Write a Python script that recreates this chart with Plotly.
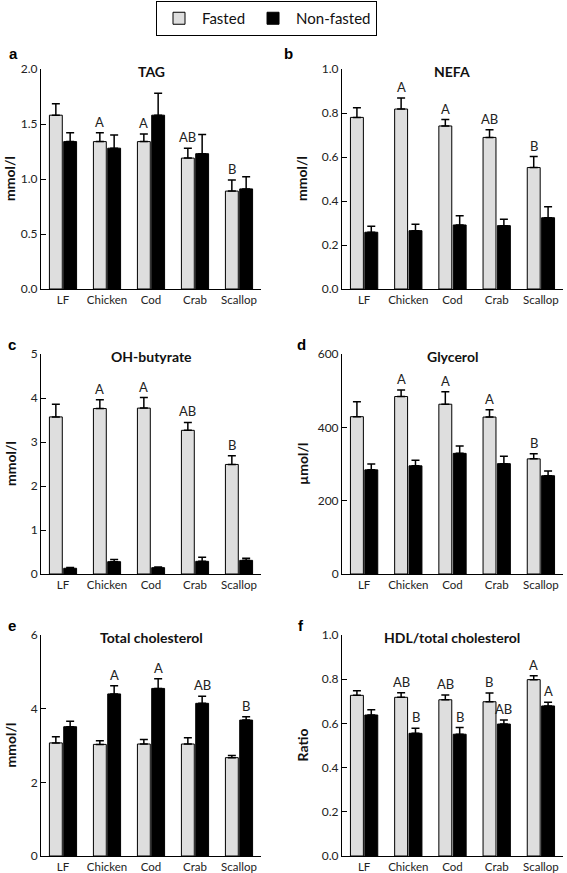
import plotly.graph_objects as go

categories = ["LF", "Chicken", "Cod", "Crab", "Scallop"]

panel_letters = ["a", "b", "c", "d", "e", "f"]
panel_titles = ["TAG", "NEFA", "OH-butyrate", "Glycerol", "Total cholesterol", "HDL/total cholesterol"]
y_titles = ["mmol/l", "mmol/l", "mmol/l", "µmol/l", "mmol/l", "Ratio"]

tag_fasted = [1.58, 1.34, 1.34, 1.19, 0.89]
tag_fasted_err = [0.105, 0.08, 0.07, 0.09, 0.10]
tag_nonfasted = [1.34, 1.28, 1.58, 1.23, 0.91]
tag_nonfasted_err = [0.08, 0.12, 0.20, 0.175, 0.11]
tag_fasted_sig = ["", "A", "A", "AB", "B"]
tag_nonfasted_sig = ["", "", "", "", ""]

nefa_fasted = [0.78, 0.818, 0.741, 0.689, 0.552]
nefa_fasted_err = [0.044, 0.05, 0.029, 0.035, 0.05]
nefa_nonfasted = [0.258, 0.265, 0.291, 0.288, 0.324]
nefa_nonfasted_err = [0.027, 0.029, 0.042, 0.029, 0.05]
nefa_fasted_sig = ["", "A", "A", "AB", "B"]
nefa_nonfasted_sig = ["", "", "", "", ""]

ohb_fasted = [3.57, 3.76, 3.77, 3.265, 2.49]
ohb_fasted_err = [0.29, 0.20, 0.24, 0.18, 0.20]
ohb_nonfasted = [0.13, 0.28, 0.144, 0.288, 0.31]
ohb_nonfasted_err = [0.015, 0.05, 0.015, 0.09, 0.05]
ohb_fasted_sig = ["", "A", "A", "AB", "B"]
ohb_nonfasted_sig = ["", "", "", "", ""]

gly_fasted = [429, 484, 463, 428, 314]
gly_fasted_err = [41, 18, 34, 20, 14]
gly_nonfasted = [284, 295, 329, 301, 268]
gly_nonfasted_err = [16, 15, 20, 20, 13]
gly_fasted_sig = ["", "A", "A", "A", "B"]
gly_nonfasted_sig = ["", "", "", "", ""]

tc_fasted = [3.07, 3.03, 3.04, 3.04, 2.67]
tc_fasted_err = [0.17, 0.10, 0.12, 0.17, 0.06]
tc_nonfasted = [3.51, 4.40, 4.55, 4.145, 3.69]
tc_nonfasted_err = [0.15, 0.22, 0.26, 0.19, 0.09]
tc_fasted_sig = ["", "", "", "", ""]
tc_nonfasted_sig = ["", "A", "A", "AB", "B"]

hdl_fasted = [0.727, 0.718, 0.707, 0.698, 0.798]
hdl_fasted_err = [0.021, 0.021, 0.021, 0.04, 0.018]
hdl_nonfasted = [0.638, 0.555, 0.551, 0.597, 0.679]
hdl_nonfasted_err = [0.024, 0.023, 0.03, 0.018, 0.017]
hdl_fasted_sig = ["", "AB", "AB", "B", "A"]
hdl_nonfasted_sig = ["", "B", "B", "AB", "A"]

y_ranges = [[0, 2.0], [0, 1.0], [0, 5], [0, 600], [0, 6], [0, 1.0]]
y_dticks = [0.5, 0.2, 1, 200, 2, 0.2]
y_formats = [".1f", ".1f", "d", "d", "d", ".1f"]

panels = [
    (tag_fasted, tag_fasted_err, tag_nonfasted, tag_nonfasted_err, tag_fasted_sig, tag_nonfasted_sig),
    (nefa_fasted, nefa_fasted_err, nefa_nonfasted, nefa_nonfasted_err, nefa_fasted_sig, nefa_nonfasted_sig),
    (ohb_fasted, ohb_fasted_err, ohb_nonfasted, ohb_nonfasted_err, ohb_fasted_sig, ohb_nonfasted_sig),
    (gly_fasted, gly_fasted_err, gly_nonfasted, gly_nonfasted_err, gly_fasted_sig, gly_nonfasted_sig),
    (tc_fasted, tc_fasted_err, tc_nonfasted, tc_nonfasted_err, tc_fasted_sig, tc_nonfasted_sig),
    (hdl_fasted, hdl_fasted_err, hdl_nonfasted, hdl_nonfasted_err, hdl_fasted_sig, hdl_nonfasted_sig),
]

W, H = 567, 873
FONT = "Lato"
FASTED_COLOR = "#dedede"
NONFASTED_COLOR = "#000000"

# pixel geometry of panels (left, right, top, bottom)
col_px = [(41, 261), (342, 563)]
row_px = [(69, 289), (354, 574), (635, 856)]

fig = go.Figure()
annotations = []

for i, (f, fe, nf, nfe, fsig, nfsig) in enumerate(panels):
    r, c = divmod(i, 2)
    n = "" if i == 0 else str(i + 1)
    xa, ya = "x" + n, "y" + n
    x0, x1 = col_px[c]
    t0, t1 = row_px[r]
    xdom = [x0 / W, x1 / W]
    ydom = [1 - t1 / H, 1 - t0 / H]

    fig.add_trace(go.Bar(
        x=categories, y=f, name="Fasted", legendgroup="f", showlegend=(i == 0),
        marker=dict(color=FASTED_COLOR, line=dict(color="black", width=1)),
        error_y=dict(type="data", array=fe, arrayminus=[0] * len(fe), symmetric=False,
                     color="black", thickness=1.5, width=4),
        xaxis=xa, yaxis=ya,
    ))
    fig.add_trace(go.Bar(
        x=categories, y=nf, name="Non-fasted", legendgroup="n", showlegend=(i == 0),
        marker=dict(color=NONFASTED_COLOR, line=dict(color="black", width=1)),
        error_y=dict(type="data", array=nfe, arrayminus=[0] * len(nfe), symmetric=False,
                     color="black", thickness=1.5, width=4),
        xaxis=xa, yaxis=ya,
    ))

    fig.layout["xaxis" + n] = dict(
        domain=xdom, anchor=ya, range=[-0.5, 4.5], showline=True, linecolor="black",
        linewidth=1, ticks="", showgrid=False, zeroline=False, automargin=False,
        tickfont=dict(family=FONT, size=11.5, color="#222"), fixedrange=True,
    )
    fig.layout["yaxis" + n] = dict(
        domain=ydom, anchor=xa, range=y_ranges[i], dtick=y_dticks[i], tick0=0,
        tickformat=y_formats[i], showline=True, linecolor="black", linewidth=1,
        ticks="inside", ticklen=5, tickcolor="black", tickwidth=1, showgrid=False,
        zeroline=False, automargin=False,
        tickfont=dict(family=FONT, size=12, color="#222"), fixedrange=True,
    )

    # significance letters
    for k, cat in enumerate(categories):
        for vals, errs, sig, off in ((f, fe, fsig, -0.165), (nf, nfe, nfsig, 0.165)):
            if sig[k]:
                annotations.append(dict(
                    x=k + off, y=vals[k] + errs[k], xref=xa, yref=ya, text=sig[k],
                    showarrow=False, xanchor="center", yanchor="bottom", yshift=1,
                    font=dict(family=FONT, size=13, color="#222"),
                ))

    # panel title
    annotations.append(dict(
        x=(xdom[0] + xdom[1]) / 2, y=1 - (t0 + 2) / H, xref="paper", yref="paper",
        text="<b>" + panel_titles[i] + "</b>", showarrow=False,
        xanchor="center", yanchor="middle",
        font=dict(family=FONT, size=14, color="#111"),
    ))
    # y-axis title
    ytx = 10 if c == 0 else 302
    annotations.append(dict(
        x=ytx / W, y=1 - ((t0 + t1) / 2) / H, xref="paper", yref="paper",
        text="<b>" + y_titles[i] + "</b>", showarrow=False, textangle=-90,
        xanchor="center", yanchor="middle",
        font=dict(family=FONT, size=14, color="#111"),
    ))
    # panel letter
    lx = [13, 288][c] if r == 0 else [12, 301][c]
    ly = [53, 345, 625][r]
    annotations.append(dict(
        x=lx / W, y=1 - ly / H, xref="paper", yref="paper",
        text="<b>" + panel_letters[i] + "</b>", showarrow=False,
        xanchor="center", yanchor="middle",
        font=dict(family="Liberation Sans", size=15, color="black"),
    ))

fig.update_layout(
    template="none",
    width=W, height=H, margin=dict(l=0, r=0, t=0, b=0, autoexpand=False),
    paper_bgcolor="white", plot_bgcolor="white",
    barmode="group", bargap=0.35, bargroupgap=0.1,
    annotations=annotations,
    showlegend=True,
    legend=dict(
        orientation="h", x=266.5 / W, xanchor="center", y=1 - 1 / H, yanchor="top",
        bordercolor="black", borderwidth=1, bgcolor="white",
        font=dict(family=FONT, size=15, color="#111"), itemwidth=36,
    ),
    font=dict(family=FONT),
)

fig.write_html(
    "out.html",
    config={"displayModeBar": False},
    post_script="document.body.style.margin='0';document.body.style.overflow='hidden';",
)
